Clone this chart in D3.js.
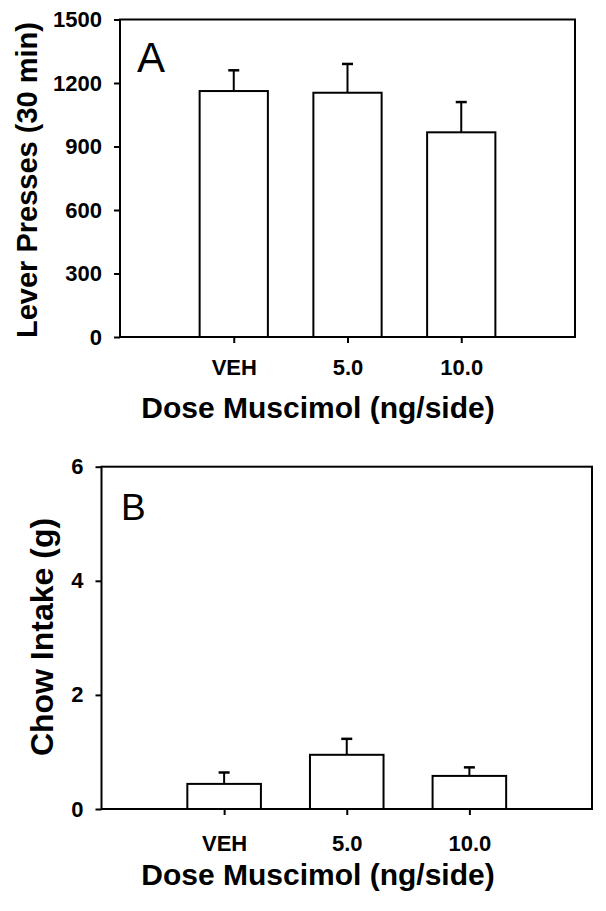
<!DOCTYPE html>
<html>
<head>
    <meta charset="utf-8">
    <style>
        body {
            margin: 0;
            background: #fff;
        }

        svg {
            display: block;
            font-family: 'Liberation Sans', Arial, Helvetica, sans-serif;
        }

        .axis .domain {
            display: none;
        }

        .axis .tick line {
            stroke: #000;
            stroke-width: 2px;
        }

        .axis .tick text {
            font-family: 'Liberation Sans', Arial, Helvetica, sans-serif;
            font-size: 22px;
            font-weight: bold;
            fill: #000;
        }

        .axis-title {
            font-weight: bold;
            fill: #000;
        }

        .panel-letter {
            fill: #000;
        }
    </style>
</head>

<body>
    <svg width="606" height="911"></svg>

    <script src="https://d3js.org/d3.v7.min.js"></script>

    <script>
        // data
        let doses = ["VEH", "5.0", "10.0"]

        let leverMeans = [1162, 1154, 967]
        let leverSem = [98, 136, 143]
        let leverTicks = [0, 300, 600, 900, 1200, 1500]

        let chowMeans = [0.44, 0.95, 0.58]
        let chowSem = [0.20, 0.28, 0.15]
        let chowTicks = [0, 2, 4, 6]

        let svg = d3.select("svg")

        function drawPanel(opt) {
            let g = svg.append("g")

            let data = doses.map((d, i) => ({ dose: d, pos: i + 1, mean: opt.means[i], sem: opt.sem[i] }))

            // categories sit at 1,2,3 on a 0..4 axis
            let x = d3.scaleLinear()
                .domain([0, 4])
                .range([opt.left, opt.right])

            let y = d3.scaleLinear()
                .domain([0, d3.max(opt.ticks)])
                .range([opt.bottom, opt.top])

            let barW = x(0.6) - x(0)

            // y axis
            g.append("g")
                .attr("class", "y axis")
                .attr("transform", `translate(${opt.left},0)`)
                .call(d3.axisLeft(y)
                    .tickValues(opt.ticks)
                    .tickSize(6)
                    .tickPadding(12)
                    .tickFormat(d3.format("d")))

            // x axis
            g.append("g")
                .attr("class", "x axis")
                .attr("transform", `translate(0,${opt.bottom})`)
                .call(d3.axisBottom(x)
                    .tickValues(data.map(d => d.pos))
                    .tickSize(6)
                    .tickPadding(opt.xPad)
                    .tickFormat((d, i) => doses[i]))

            // bars
            g.selectAll(".bar")
                .data(data)
                .join("rect")
                .attr("class", "bar")
                .attr("x", d => x(d.pos) - barW / 2)
                .attr("y", d => y(d.mean))
                .attr("width", barW)
                .attr("height", d => y(0) - y(d.mean))
                .attr("fill", "#fff")
                .attr("stroke", "#000")
                .attr("stroke-width", 2)

            // error bars (upper only)
            g.selectAll(".err")
                .data(data)
                .join("line")
                .attr("class", "err")
                .attr("x1", d => x(d.pos))
                .attr("x2", d => x(d.pos))
                .attr("y1", d => y(d.mean))
                .attr("y2", d => y(d.mean + d.sem))
                .attr("stroke", "#000")
                .attr("stroke-width", 2)

            g.selectAll(".cap")
                .data(data)
                .join("line")
                .attr("class", "cap")
                .attr("x1", d => x(d.pos) - 5.5)
                .attr("x2", d => x(d.pos) + 5.5)
                .attr("y1", d => y(d.mean + d.sem))
                .attr("y2", d => y(d.mean + d.sem))
                .attr("stroke", "#000")
                .attr("stroke-width", 2.5)

            // frame
            g.append("rect")
                .attr("x", x(0))
                .attr("y", y.range()[1])
                .attr("width", x(4) - x(0))
                .attr("height", y(0) - y.range()[1])
                .attr("fill", "none")
                .attr("stroke", "#000")
                .attr("stroke-width", 2)

            // labels
            g.append("text")
                .attr("class", "axis-title")
                .attr("transform", `translate(${opt.yTitleX},${opt.yTitleY}) rotate(-90)`)
                .attr("text-anchor", "middle")
                .style("font-size", opt.yTitleSize + "px")
                .text(opt.yTitle)

            g.append("text")
                .attr("class", "axis-title")
                .attr("x", opt.xTitleX)
                .attr("y", opt.xTitleY)
                .attr("text-anchor", "middle")
                .style("font-size", "30px")
                .text("Dose Muscimol (ng/side)")

            g.append("text")
                .attr("class", "panel-letter")
                .attr("x", opt.letterX)
                .attr("y", opt.letterY)
                .style("font-size", opt.letterSize + "px")
                .text(opt.letter)
        }

        drawPanel({
            means: leverMeans, sem: leverSem, ticks: leverTicks,
            left: 120, right: 575, top: 19.5, bottom: 337,
            xPad: 16,
            yTitle: "Lever Presses (30 min)", yTitleX: 37, yTitleY: 180, yTitleSize: 29,
            xTitleX: 318, xTitleY: 418,
            letter: "A", letterX: 137, letterY: 72, letterSize: 42
        })

        drawPanel({
            means: chowMeans, sem: chowSem, ticks: chowTicks,
            left: 101.5, right: 592, top: 466.7, bottom: 809,
            xPad: 20,
            yTitle: "Chow Intake (g)", yTitleX: 53, yTitleY: 637, yTitleSize: 32,
            xTitleX: 318, xTitleY: 885,
            letter: "B", letterX: 121, letterY: 520, letterSize: 37
        })
    </script>
</body>
</html>
